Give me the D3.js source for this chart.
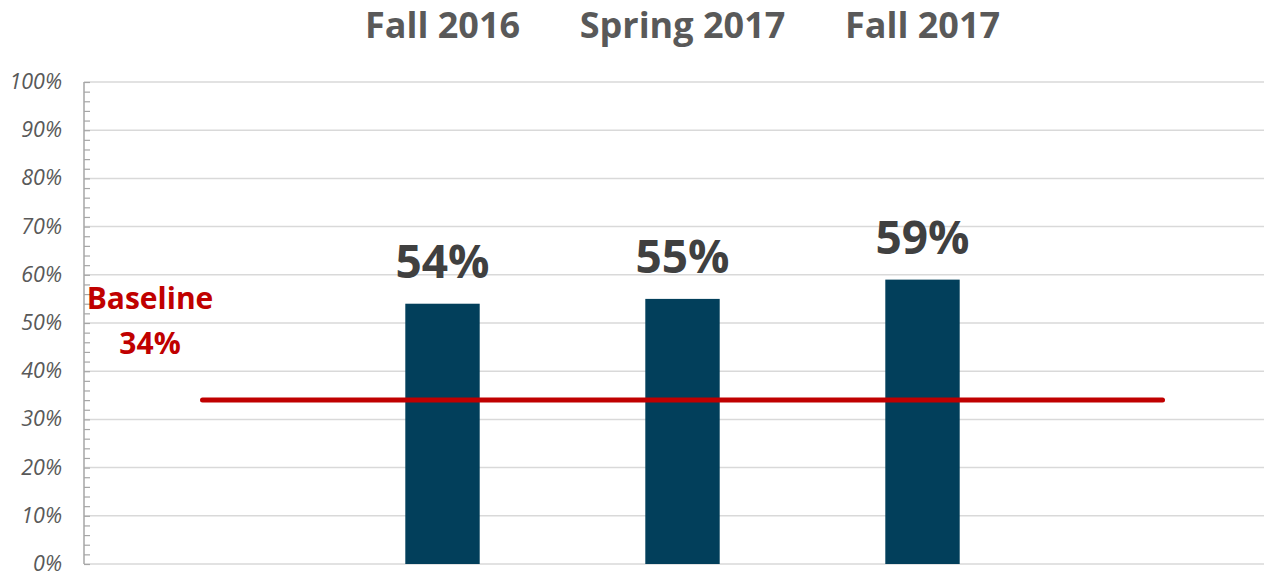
<!DOCTYPE html>
<html>
<head>
<meta charset="utf-8">
<script src="https://cdn.jsdelivr.net/npm/d3@7"></script>
<style>
  body { margin: 0; background: #fff; }
  svg { display: block; }
</style>
</head>
<body>
<div id="chart"></div>
<script>
var width = 1264,
    height = 573;

// data
var terms = ["Fall 2016", "Spring 2017", "Fall 2017"];
var values = [54, 55, 59];
var baseline = 34;
var yTicks = [0, 10, 20, 30, 40, 50, 60, 70, 80, 90, 100];

var svg = d3.select("#chart")
    .append("svg")
    .attr("width", width)
    .attr("height", height);

// one empty slot either side of the terms, baseline runs slot to slot
var slots = d3.range(terms.length + 2);

var x = d3.scalePoint()
    .domain(slots)
    .range([202.5, 1162.5]);

var y = d3.scaleLinear()
    .domain([0, 100])
    .range([564, 82]);

var axisX = 84;
var barWidth = x.step() * 0.31;

// gridlines
svg.append("g")
    .selectAll("line")
    .data(yTicks)
    .enter()
    .append("line")
    .attr("x1", axisX)
    .attr("x2", width)
    .attr("y1", function (d) { return y(d); })
    .attr("y2", function (d) { return y(d); })
    .style("stroke", "#d9d9d9")
    .style("stroke-width", 1.5);

// y axis line + minor ticks
var yAxis = d3.axisRight(y)
    .tickValues(d3.range(0, 101, 2))
    .tickSize(6)
    .tickFormat("");

var ax = svg.append("g")
    .attr("transform", "translate(" + axisX + ",0)")
    .call(yAxis);

ax.select(".domain")
    .attr("d", "M0," + y(100) + "V" + y(0))
    .style("stroke", "#a6a6a6")
    .style("stroke-width", 1.5);

ax.selectAll(".tick line")
    .style("stroke", "#a6a6a6")
    .style("stroke-width", 1.2);

// y tick labels
svg.append("g")
    .selectAll("text")
    .data(yTicks)
    .enter()
    .append("text")
    .attr("x", 62)
    .attr("y", function (d) { return y(d); })
    .attr("dy", "0.33em")
    .attr("text-anchor", "end")
    .style("font-family", "'Open Sans', sans-serif")
    .style("font-style", "italic")
    .style("font-size", "21.5px")
    .style("fill", "#595959")
    .text(function (d) { return d + "%"; });

// bars
svg.append("g")
    .selectAll("rect")
    .data(values)
    .enter()
    .append("rect")
    .attr("x", function (d, i) { return x(i + 1) - barWidth / 2; })
    .attr("y", function (d) { return y(d); })
    .attr("width", barWidth)
    .attr("height", function (d) { return y(0) - y(d); })
    .style("fill", "#023f5b");

// baseline
svg.append("line")
    .attr("x1", x(slots[0]))
    .attr("x2", x(slots[slots.length - 1]))
    .attr("y1", y(baseline))
    .attr("y2", y(baseline))
    .style("stroke", "#c00000")
    .style("stroke-width", 5)
    .style("stroke-linecap", "round");

// value labels
svg.append("g")
    .selectAll("text")
    .data(values)
    .enter()
    .append("text")
    .attr("x", function (d, i) { return x(i + 1); })
    .attr("y", function (d) { return y(d) - 26; })
    .attr("text-anchor", "middle")
    .style("font-family", "'Open Sans', sans-serif")
    .style("font-weight", "bold")
    .style("font-size", "46px")
    .style("fill", "#404040")
    .text(function (d) { return d + "%"; });

// term titles on top
svg.append("g")
    .selectAll("text")
    .data(terms)
    .enter()
    .append("text")
    .attr("x", function (d, i) { return x(i + 1); })
    .attr("y", 38)
    .attr("text-anchor", "middle")
    .style("font-family", "'Open Sans', sans-serif")
    .style("font-weight", "bold")
    .style("font-size", "36px")
    .style("fill", "#595959")
    .text(function (d) { return d; });

// baseline label
var bl = svg.append("text")
    .attr("x", 150)
    .attr("text-anchor", "middle")
    .style("font-family", "'Open Sans', sans-serif")
    .style("font-weight", "bold")
    .style("font-size", "30px")
    .style("fill", "#c00000");

bl.append("tspan").attr("x", 150).attr("y", 309).text("Baseline");
bl.append("tspan").attr("x", 150).attr("y", 354).text(baseline + "%");
</script>
</body>
</html>
